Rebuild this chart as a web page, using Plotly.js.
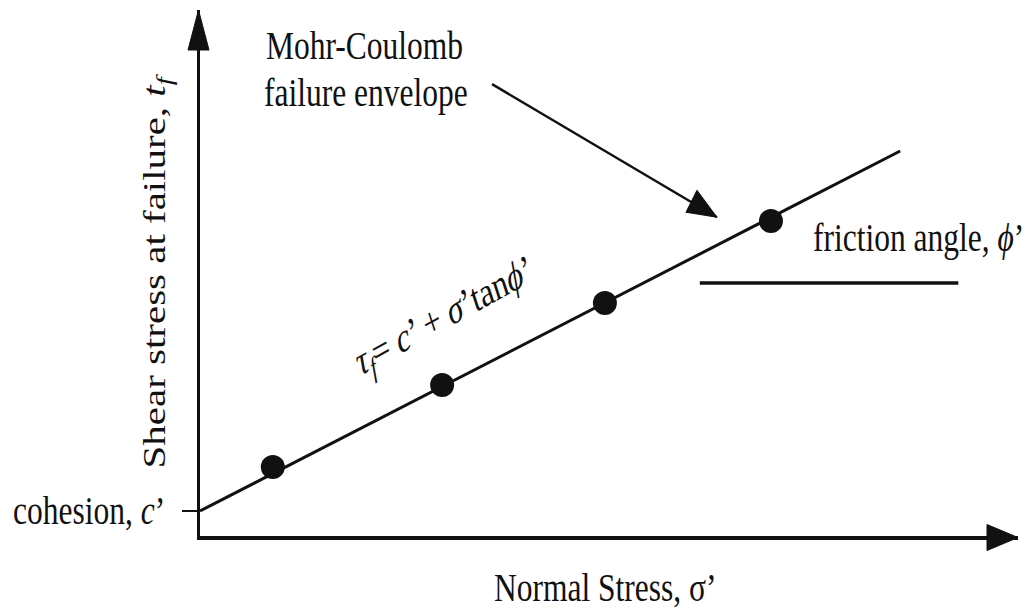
<!DOCTYPE html>
<html>
<head>
<meta charset="utf-8">
<script src="https://cdn.plot.ly/plotly-3.0.1.min.js"></script>
<style>
  html, body { margin: 0; padding: 0; background: #ffffff; }
  #chart { width: 1034px; height: 612px; }
</style>
</head>
<body>
<div id="chart"></div>
<script>
// ---- data (abstract units: normal stress on x, shear stress on y) ----
const sigmaPoints = [0.89, 2.96, 4.95, 6.98];   // normal stress at failure of each test
const tauPoints   = [1.31, 2.87, 4.43, 5.99];   // shear stress at failure of each test
const envelopeX   = [0, 8.56];                  // Mohr-Coulomb envelope
const envelopeY   = [0.475, 7.32];
const cohesion    = 0.475;                      // c'
const frictionRefX = [6.11, 9.27];              // horizontal reference for friction angle
const frictionRefY = [4.81, 4.81];
const pointerX    = [3.57, 6.32];               // arrow from label to envelope
const pointerY    = [8.59, 6.06];

// ---- text ----
const labelTitle1   = 'Mohr-Coulomb';
const labelTitle2   = 'failure envelope';
const labelFriction = 'friction angle, <i>ϕ</i>’';
const labelCohesion = 'cohesion, <i>c</i>’';
const labelX        = 'Normal Stress, σ’';
const labelY        = 'Shear stress at failure, <i>t</i><sub><i>f</i></sub>';
const labelEq       = '<i>τ</i><sub><i>f</i></sub>= <i>c</i>’ + <i>σ</i>’tan<i>ϕ</i>’';

const INK = '#111111';
const FONT = 'Liberation Serif, Times New Roman, serif';
const FS = 31.5;

const traces = [
  { x: envelopeX, y: envelopeY, mode: 'lines', line: { color: INK, width: 3 }, hoverinfo: 'skip' },
  { x: frictionRefX, y: frictionRefY, mode: 'lines', line: { color: INK, width: 3.5 }, hoverinfo: 'skip' },
  { x: pointerX, y: pointerY, mode: 'lines', line: { color: INK, width: 2.5 }, hoverinfo: 'skip' },
  { x: sigmaPoints, y: tauPoints, mode: 'markers', marker: { color: INK, size: 24, line: { width: 0 } }, cliponaxis: false }
];

function ann(text, x, y, opts) {
  return Object.assign({
    text: text, x: x, y: y, xref: 'paper', yref: 'paper',
    showarrow: false, xanchor: 'center', yanchor: 'middle',
    font: { family: FONT, size: FS, color: INK }
  }, opts || {});
}

const layout = {
  width: 1034, height: 612,
  margin: { l: 200, r: 16, t: 10, b: 76 },
  paper_bgcolor: '#ffffff', plot_bgcolor: '#ffffff',
  showlegend: false,
  xaxis: { range: [0, 10], showgrid: false, zeroline: false, showticklabels: false, ticks: '',
           showline: true, linecolor: INK, linewidth: 3.5, fixedrange: true },
  yaxis: { range: [0, 10], showgrid: false, zeroline: false, showticklabels: false, ticks: '',
           showline: true, linecolor: INK, linewidth: 3, fixedrange: true },
  annotations: [
    ann(labelTitle1, 0.2005, 0.9316),
    ann(labelTitle2, 0.203, 0.844),
    ann(labelFriction, 0.878, 0.567),
    ann(labelCohesion, -0.0403, 0.049, { xanchor: 'right' }),
    ann(labelX, 0.496, -0.098),
    ann(labelY, -0.0526, 0.504, { textangle: -90 }),
    ann(labelEq, 0.2995, 0.414, { textangle: -23 })
  ],
  shapes: [
    // y-axis arrowhead
    { type: 'path', xref: 'paper', yref: 'paper', xsizemode: 'pixel', ysizemode: 'pixel',
      xanchor: 0, yanchor: 1, path: 'M-1.5,0 L-12,-40 L9,-40 Z',
      fillcolor: INK, line: { color: INK, width: 1 } },
    // x-axis arrowhead
    { type: 'path', xref: 'paper', yref: 'paper', xsizemode: 'pixel', ysizemode: 'pixel',
      xanchor: 1, yanchor: 0, path: 'M0,-1.5 L-31,11.5 L-31,-14.5 Z',
      fillcolor: INK, line: { color: INK, width: 1 } },
    // cohesion tick
    { type: 'line', xref: 'paper', yref: 'y', xsizemode: 'pixel', xanchor: 0,
      x0: -18, x1: 0, y0: cohesion, y1: cohesion, line: { color: INK, width: 2 } },
    // pointer arrowhead
    { type: 'path', xref: 'x', yref: 'y', xsizemode: 'pixel', ysizemode: 'pixel',
      xanchor: pointerX[1], yanchor: pointerY[1], path: 'M0,0 L-31,5 L-20,27 Z',
      fillcolor: INK, line: { color: INK, width: 1 } }
  ]
};

Plotly.newPlot('chart', traces, layout, { staticPlot: true, displayModeBar: false }).then(function (gd) {
  // the reference drawing is stretched vertically; reproduce that on the text
  const sy = 1.3;
  const svg = gd.querySelector('.main-svg').getBoundingClientRect();
  gd.querySelectorAll('g.annotation').forEach(function (g) {
    const r = g.getBoundingClientRect();
    const cy = r.top + r.height / 2 - svg.top;
    const prev = g.getAttribute('transform') || '';
    g.setAttribute('transform', 'translate(0,' + cy + ') scale(1,' + sy + ') translate(0,' + (-cy) + ') ' + prev);
  });
});
</script>
</body>
</html>
